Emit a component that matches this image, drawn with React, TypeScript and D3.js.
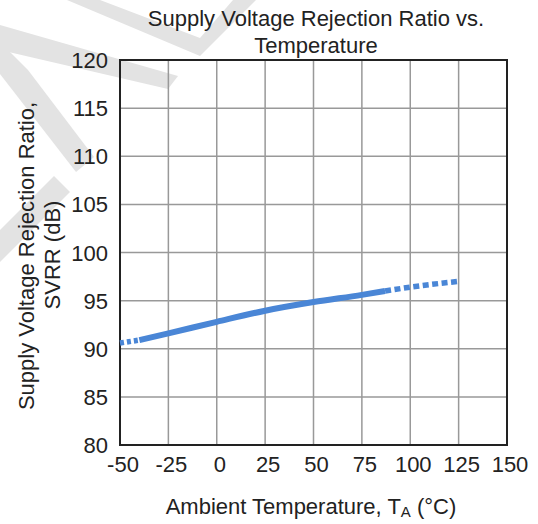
import React from "react";
import * as d3 from "d3";

const temps = [-50, -40, -25, 0, 25, 50, 75, 87, 100, 125];
const svrr = [90.6, 90.9, 91.6, 92.8, 93.95, 94.85, 95.6, 96.0, 96.4, 97.0];
const solidStart = -40;
const solidEnd = 87;
const xTicks = [-50, -25, 0, 25, 50, 75, 100, 125, 150];
const yTicks = [80, 85, 90, 95, 100, 105, 110, 115, 120];

const W = 538;
const H = 524;
const L = 120, R = 507, T = 60, B = 445;
const FONT = "'Liberation Sans', Arial, sans-serif";
const BLUE = "#4a86d6";

export default function App() {
  const x = d3.scaleLinear().domain([-50, 150]).range([L, R]);
  const y = d3.scaleLinear().domain([80, 120]).range([B, T]);
  const pts = temps.map((t, i) => ({ t, v: svrr[i] }));
  const line = d3
    .line<{ t: number; v: number }>()
    .x((d) => x(d.t))
    .y((d) => y(d.v))
    .curve(d3.curveMonotoneX);
  const leftPts = pts.filter((d) => d.t <= solidStart);
  const midPts = pts.filter((d) => d.t >= solidStart && d.t <= solidEnd);
  const rightPts = pts.filter((d) => d.t >= solidEnd);

  return (
    <svg
      width={W}
      height={H}
      style={{ position: "absolute", left: 0, top: 0, background: "#fff" }}
      fontFamily={FONT}
    >
      <rect x={0} y={0} width={W} height={H} fill="#fff" />
      {/* watermark bands */}
      <g fill="#e3e3e3">
        <polygon points="67,0 100,0 200,38 233,0 256,0 200,56" />
        <polygon points="0,25 0,50 168,89 178,76" />
        <polygon points="0,42 0,74 76,172 94,157 28,70" />
        <polygon points="54,176 70,192 0,262 0,230" />
      </g>
      {/* grid */}
      <g stroke="#999" strokeWidth={1.5}>
        {xTicks.map((t) => (
          <line key={"gx" + t} x1={x(t)} x2={x(t)} y1={T} y2={B} />
        ))}
        {yTicks.map((t) => (
          <line key={"gy" + t} x1={L} x2={R} y1={y(t)} y2={y(t)} />
        ))}
      </g>
      <rect x={L} y={T} width={R - L} height={B - T} fill="none" stroke="#222" strokeWidth={2} />
      {/* data */}
      <path d={line(leftPts) || ""} fill="none" stroke={BLUE} strokeWidth={5.5} strokeDasharray="4,3" />
      <path d={line(midPts) || ""} fill="none" stroke={BLUE} strokeWidth={6} />
      <path d={line(rightPts) || ""} fill="none" stroke={BLUE} strokeWidth={5.5} strokeDasharray="6,3.5" />
      {/* y tick labels */}
      <g fontSize={22} fill="#222" textAnchor="end">
        {yTicks.map((t) => (
          <text key={"ty" + t} x={108} y={y(t) + 8}>
            {t}
          </text>
        ))}
      </g>
      {/* x tick labels */}
      <g fontSize={22} fill="#222" textAnchor="middle">
        {xTicks.map((t) => (
          <text key={"tx" + t} x={x(t) + 3} y={472}>
            {t}
          </text>
        ))}
      </g>
      {/* title */}
      <g fontSize={22} fill="#222" textAnchor="middle">
        <text x={316} y={26}>Supply Voltage Rejection Ratio vs.</text>
        <text x={316} y={53}>Temperature</text>
      </g>
      {/* x axis title */}
      <text x={311} y={514} fontSize={22} fill="#222" textAnchor="middle">
        Ambient Temperature, T
        <tspan fontSize={15} dy={3}>A</tspan>
        <tspan dy={-3}> (°C)</tspan>
      </text>
      {/* y axis title */}
      <g fontSize={22} fill="#222" textAnchor="middle">
        <text transform="translate(34,256) rotate(-90)">Supply Voltage Rejection Ratio,</text>
        <text transform="translate(60,255) rotate(-90)">SVRR (dB)</text>
      </g>
    </svg>
  );
}
